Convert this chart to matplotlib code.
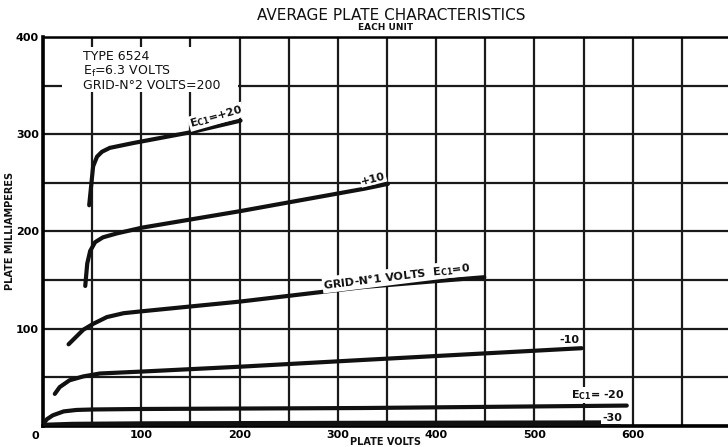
import numpy as np
import matplotlib
matplotlib.use("Agg")
import matplotlib.pyplot as plt
from matplotlib.patches import Rectangle

# ---- data (plate volts, plate milliamperes) ----
ec_p20_v = [47, 51, 55, 60, 68, 92, 150, 201]
ec_p20_ma = [227, 267, 277, 282, 286, 291, 302, 314]

ec_p10_v = [43, 45, 48, 53, 61, 75, 101, 201, 327, 351]
ec_p10_ma = [144, 167, 180, 189, 194, 198, 204, 221, 244, 249]

ec_0_v = [26, 33, 41, 51, 65, 82, 101, 201, 327, 449]
ec_0_ma = [84, 91, 99, 105, 112, 116, 118, 128, 143, 153]

ec_m10_v = [12, 17, 27, 41, 58, 101, 201, 327, 548]
ec_m10_ma = [33, 40, 47, 51, 54, 56, 61, 68, 80]

ec_m20_v = [0, 4, 10, 21, 34, 51, 101, 327, 594]
ec_m20_ma = [2, 7, 11, 15, 16.5, 17, 17.5, 18.5, 21]

ec_m30_v = [0, 30, 100, 300, 588]
ec_m30_ma = [0.5, 1.5, 2, 2.5, 3]

x_tick_vals = [100, 200, 300, 400, 500, 600]
y_tick_vals = [100, 200, 300, 400]

title = "AVERAGE PLATE CHARACTERISTICS"
subtitle = "EACH UNIT"
xlabel = "PLATE VOLTS"
ylabel = "PLATE MILLIAMPERES"

W, H = 728, 447
fig = plt.figure(figsize=(W / 100, H / 100), dpi=100)
ax = fig.add_axes([43 / W, 21 / H, 685 / W, 389 / H])
ax.set_xlim(0, 697)
ax.set_ylim(0, 400)
ax.set_axisbelow(True)

ax.set_xticks(np.arange(0, 697, 50))
ax.set_yticks(np.arange(0, 401, 50))
ax.set_xticklabels([str(int(v)) if int(v) in x_tick_vals else "" for v in np.arange(0, 697, 50)],
                   fontsize=8, fontweight="bold")
ax.set_yticklabels([str(int(v)) if int(v) in y_tick_vals else "" for v in np.arange(0, 401, 50)],
                   fontsize=8, fontweight="bold")
ax.tick_params(length=0, pad=3)
ax.grid(True, color="#1a1a1a", lw=1.6)

for s in ["left", "bottom"]:
    ax.spines[s].set_linewidth(2.6)
ax.spines["top"].set_linewidth(1.8)
ax.spines["right"].set_visible(False)

# white area behind the type box (interrupts grid)
ax.add_patch(Rectangle((19, 343), 179, 47, facecolor="white", edgecolor="none", zorder=2))

curves = [(ec_p20_v, ec_p20_ma), (ec_p10_v, ec_p10_ma), (ec_0_v, ec_0_ma),
          (ec_m10_v, ec_m10_ma), (ec_m20_v, ec_m20_ma)]
for xv, yv in curves:
    ax.plot(xv, yv, color="#111111", lw=3.0, solid_capstyle="round", zorder=3)
ax.plot(ec_m30_v, ec_m30_ma, color="#111111", lw=4.0, solid_capstyle="butt", zorder=3)

lab = dict(fontsize=8, fontweight="bold", color="#111111", zorder=4, ha="center", va="center",
           bbox=dict(facecolor="white", edgecolor="none", pad=0.6))
ax.text(176, 318, r"E$\mathregular{_{C1}}$=+20", rotation=16, **lab)
ax.text(336, 254, "+10", rotation=14, **lab)
ax.text(360, 154, r"GRID-N°1 VOLTS  E$\mathregular{_{C1}}$=0", rotation=7, **lab)
ax.text(536, 88, "-10", **lab)
ax.text(565, 32, r"E$\mathregular{_{C1}}$= -20", **lab)
ax.text(579, 8, "-30", **lab)

box = dict(fontsize=9, color="#111111", zorder=4, ha="left", va="center")
ax.text(41, 380, "TYPE 6524", **box)
ax.text(41, 364.5, r"E$\mathregular{_f}$=6.3 VOLTS", **box)
ax.text(41, 350.5, "GRID-N°2 VOLTS=200", **box)

ax.text(-4, -5, "0", fontsize=8, fontweight="bold", ha="right", va="top", clip_on=False)

fig.text(391 / W, 1 - 15 / H, title, fontsize=11, ha="center", va="center", color="#111111")
fig.text(386 / W, 1 - 28 / H, subtitle, fontsize=6.5, fontweight="bold", ha="center", va="center",
         color="#111111")
fig.text(385 / W, 1 - 442 / H, xlabel, fontsize=7, fontweight="bold", ha="center", va="center",
         color="#111111")
fig.text(10 / W, 1 - 231 / H, ylabel, fontsize=7, fontweight="bold", rotation=90,
         ha="center", va="center", color="#111111")

fig.savefig("out.png", dpi=100)
